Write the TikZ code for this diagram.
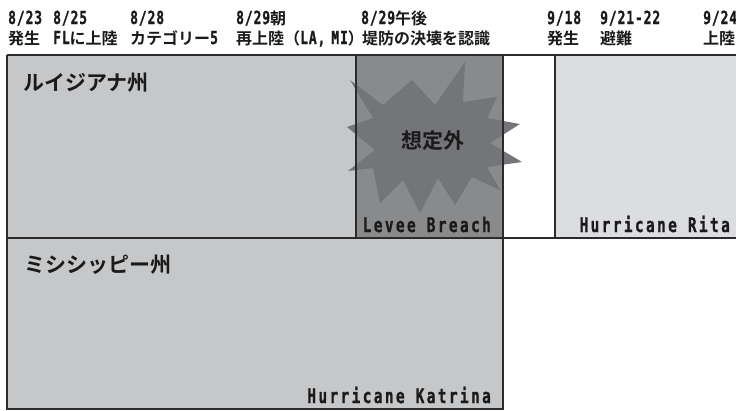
\documentclass[tikz,border=0pt]{standalone}
\usepackage{fontspec}
\newfontfamily\jp{Noto Sans CJK JP Bold}
\newfontfamily\monohd{DejaVu Sans Mono Bold}[FakeStretch=0.72,LetterSpace=5,FakeBold=1]
\newfontfamily\monobx{DejaVu Sans Mono Bold}[FakeStretch=0.72,LetterSpace=12,FakeBold=1]
\definecolor{lagray}{HTML}{C6C7C9}
\definecolor{lbgray}{HTML}{898A8C}
\definecolor{stargray}{HTML}{747578}
\definecolor{ritagray}{HTML}{DCDDE0}
\definecolor{linegray}{HTML}{2B2B2B}
\definecolor{txt}{HTML}{1A1A1A}
\newcommand{\hl}[1]{{\monohd\fontsize{18}{18}\selectfont #1}}
\tikzset{
  area/.style={inner sep=0pt, outer sep=0pt, draw=none},
  bline/.style={draw=linegray, line width=1.4pt},
  hdr/.style={anchor=base west, inner sep=0pt, text=txt, font=\jp\fontsize{16}{16}\selectfont},
  state/.style={anchor=base west, inner sep=0pt, text=txt, font=\jp\fontsize{21}{21}\selectfont},
  boxlabel/.style={anchor=base east, inner sep=0pt, text=txt, font=\monobx\fontsize{20}{20}\selectfont},
}
\begin{document}
\begin{tikzpicture}[x=1pt,y=-1pt]
\useasboundingbox (0,0) rectangle (736,410);
\fill[white] (0,0) rectangle (736,410);
% areas
\node[area, fill=lagray, minimum width=349pt, minimum height=183pt] (la) at (181.5,146.5) {};
\node[area, fill=lbgray, minimum width=147pt, minimum height=183pt] (lb) at (429.5,146.5) {};
\node[area, fill=ritagray, minimum width=185pt, minimum height=183pt] (rita) at (647.5,146.5) {};
\node[area, fill=lagray, minimum width=496pt, minimum height=171pt] (ms) at (255,323.5) {};
% burst
\fill[stargray] (347,127) -- (373,118) -- (350,80) -- (383,105) -- (412,80) -- (435,105)
  -- (465,62) -- (463,102) -- (497,97) -- (487,118) -- (520,124) -- (490,143)
  -- (522,162) -- (487,167) -- (500,190) -- (472,177) -- (455,205) -- (438,178)
  -- (420,213) -- (403,180) -- (380,203) -- (373,168) -- (348,171) -- (375,150) -- cycle;
% borders
\draw[bline] (la.north west) -- (rita.north east);
\draw[bline] (la.south west) -- (rita.south east);
\draw[bline] (la.north west) -- (ms.south west) -- (ms.south east) -- (lb.north east);
\draw[bline] (la.north east) -- (la.south east);
\draw[bline] (rita.north west) -- (rita.south west);
% labels
\node[state] (laname) at (23,90) {ルイジアナ州};
\node[state] (msname) at (24,272) {ミシシッピー州};
\node[anchor=center, inner sep=0pt, text=txt, font=\jp\fontsize{21}{21}\selectfont] (surprise) at (433,141) {想定外};
\node[boxlabel] (levee) at (491,232) {Levee Breach};
\node[boxlabel] (ritalabel) at (730,232) {Hurricane Rita};
\node[boxlabel] (katrina) at (491,403) {Hurricane Katrina};
% header line 1
\node[hdr] (d1) at (8,24) {\hl{8/23}};
\node[hdr] (d2) at (53,24) {\hl{8/25}};
\node[hdr] (d3) at (130,24) {\hl{8/28}};
\node[hdr] (d4) at (236,24) {\hl{8/29}朝};
\node[hdr] (d5) at (361,24) {\hl{8/29}午後};
\node[hdr] (d6) at (547,24) {\hl{9/18}};
\node[hdr] (d7) at (600,24) {\hl{9/21-22}};
\node[hdr] (d8) at (703,24) {\hl{9/24}};
% header line 2
\node[hdr] (e1) at (8,44) {発生};
\node[hdr] (e2) at (53,44) {\hl{FL}に上陸};
\node[hdr] (e3) at (130,44) {カテゴリー\hl{5}};
\node[hdr] (e4) at (236,44) {再上陸（\hl{LA,}\hspace{6pt}\hl{MI}）};
\node[hdr] (e5) at (362,44) {堤防の決壊を認識};
\node[hdr] (e6) at (547,44) {発生};
\node[hdr] (e7) at (600,44) {避難};
\node[hdr] (e8) at (703,44) {上陸};
\end{tikzpicture}
\end{document}
